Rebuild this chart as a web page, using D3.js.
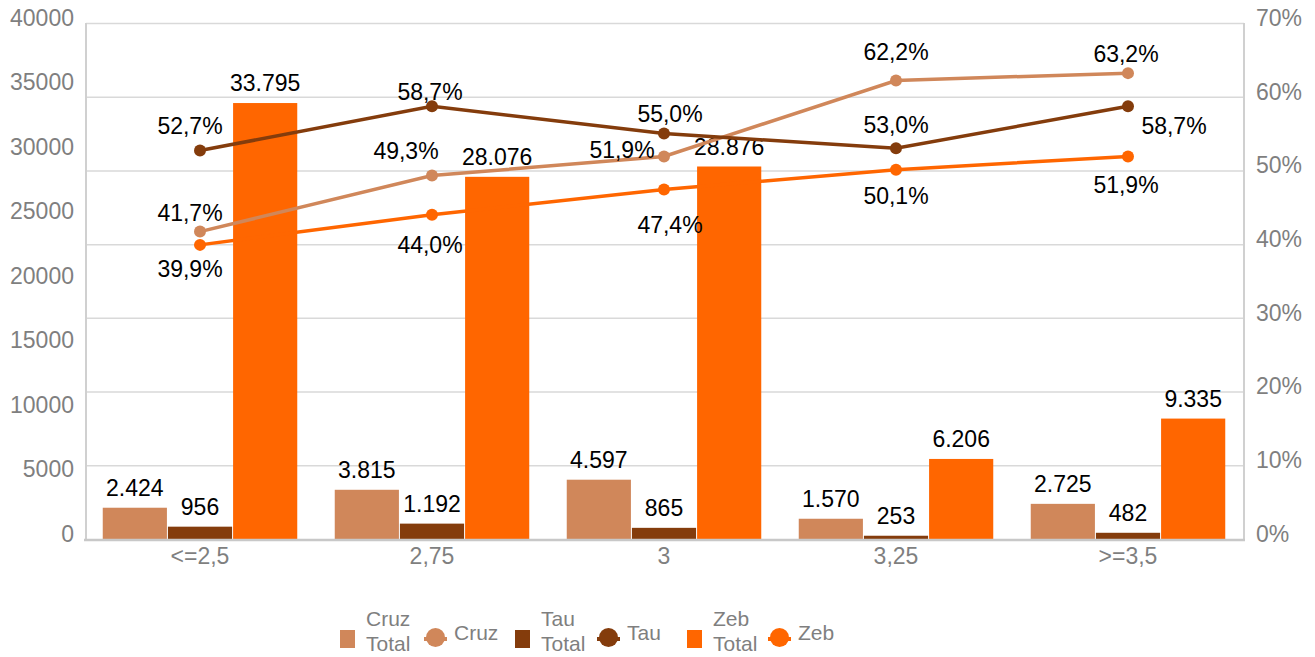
<!DOCTYPE html>
<html>
<head>
<meta charset="utf-8">
<script src="https://cdn.jsdelivr.net/npm/d3@7"></script>
<style>
body { margin: 0; background: #fff; }
text { font-family: "Liberation Sans", Arial, sans-serif; }
</style>
</head>
<body>
<script>
// Data
var categories = ["<=2,5", "2,75", "3", "3,25", ">=3,5"];
var cruzTotal = [2424, 3815, 4597, 1570, 2725];
var tauTotal = [956, 1192, 865, 253, 482];
var zebTotal = [33795, 28076, 28876, 6206, 9335];
var cruzPct = [0.417, 0.493, 0.519, 0.622, 0.632];
var tauPct = [0.527, 0.587, 0.550, 0.530, 0.587];
var zebPct = [0.399, 0.440, 0.474, 0.501, 0.519];
var leftTicks = [0, 5000, 10000, 15000, 20000, 25000, 30000, 35000, 40000];
var rightTicks = [0, 0.1, 0.2, 0.3, 0.4, 0.5, 0.6, 0.7];

var width = 1315,
    height = 657,
    plotLeft = 84, plotRight = 1244, //plot area edges
    plotTop = 23, plotBottom = 539;

var colors = {cruz: "#d0875a", tau: "#843c0c", zeb: "#ff6600"};

// label offsets of the line labels (dx, dy from the point)
var cruzOff = [[-10, -19], [-26, -25], [-42, -6], [0, -29], [-2, -19]],
    tauOff = [[-10, -25], [-2, -14], [6, -20], [0, -23], [46, 20]],
    zebOff = [[-10, 24], [-2, 30], [6, 35], [0, 26], [-2, 29]];

var loc = d3.formatLocale({decimal: ",", thousands: ".", grouping: [3], currency: ["", ""]});
var fmtNum = loc.format(",d"),
    fmtPct = loc.format(".1%");

var svg = d3.select("body").append("svg")
    .attr("width", width)
    .attr("height", height);

var x = d3.scaleBand().domain(categories).range([plotLeft, plotRight]);
var x1 = d3.scaleBand().domain(["cruz", "tau", "zeb"]).range([0, x.bandwidth()]).paddingOuter(0.28);
var y = d3.scaleLinear().domain([0, 40000]).range([plotBottom, plotTop]);
var yR = d3.scaleLinear().domain([0, 0.7]).range([plotBottom, plotTop]);

// gridlines follow the right axis
svg.append("g").selectAll("line")
    .data(rightTicks.slice(1))
    .enter().append("line")
    .attr("x1", plotLeft + 2).attr("x2", plotRight)
    .attr("y1", function (d) { return yR(d) + 0.5; })
    .attr("y2", function (d) { return yR(d) + 0.5; })
    .attr("stroke", "#d9d9d9")
    .attr("stroke-width", 1.5);

// axis lines
svg.append("line").attr("x1", plotLeft + 2).attr("x2", plotLeft + 2).attr("y1", plotTop).attr("y2", plotBottom)
    .attr("stroke", "#d0d0d0").attr("stroke-width", 2);
svg.append("line").attr("x1", plotRight).attr("x2", plotRight).attr("y1", plotTop).attr("y2", plotBottom)
    .attr("stroke", "#d0d0d0").attr("stroke-width", 2);

// left axis
var yAxis = d3.axisLeft(y).tickValues(leftTicks).tickSize(0).tickPadding(10).tickFormat(d3.format("d"));
var ga = svg.append("g").attr("transform", "translate(" + plotLeft + ",-5)").call(yAxis);
ga.select(".domain").remove();
ga.selectAll("text").attr("fill", "#7f7f7f").style("font-size", "23px").style("font-family", "Liberation Sans, Arial, sans-serif");

// right axis
var yAxisR = d3.axisRight(yR).tickValues(rightTicks).tickSize(0).tickPadding(12).tickFormat(d3.format(".0%"));
var gr = svg.append("g").attr("transform", "translate(" + plotRight + ",-5)").call(yAxisR);
gr.select(".domain").remove();
gr.selectAll("text").attr("fill", "#7f7f7f").style("font-size", "23px").style("font-family", "Liberation Sans, Arial, sans-serif");

// bars
var barSeries = [
    {key: "cruz", values: cruzTotal},
    {key: "tau", values: tauTotal},
    {key: "zeb", values: zebTotal}
];
barSeries.forEach(function (s) {
    var g = svg.append("g");
    g.selectAll("rect")
        .data(s.values)
        .enter().append("rect")
        .attr("x", function (d, i) { return x(categories[i]) + x1(s.key) + 0.5; })
        .attr("y", function (d) { return y(d); })
        .attr("width", x1.bandwidth() - 1)
        .attr("height", function (d) { return plotBottom - y(d); })
        .attr("fill", colors[s.key]);
    g.selectAll("text")
        .data(s.values)
        .enter().append("text")
        .attr("x", function (d, i) { return x(categories[i]) + x1(s.key) + x1.bandwidth() / 2; })
        .attr("y", function (d) { return y(d) - 20; })
        .attr("dy", "0.35em")
        .attr("text-anchor", "middle")
        .style("font-size", "23px")
        .attr("fill", "#000")
        .text(function (d) { return fmtNum(d); });
});

// bottom axis
svg.append("line").attr("x1", plotLeft).attr("x2", plotRight + 1).attr("y1", plotBottom + 1).attr("y2", plotBottom + 1)
    .attr("stroke", "#c8c8c8").attr("stroke-width", 2.5);
svg.append("g").selectAll("text")
    .data(categories)
    .enter().append("text")
    .attr("x", function (d) { return x(d) + x.bandwidth() / 2; })
    .attr("y", 556)
    .attr("dy", "0.35em")
    .attr("text-anchor", "middle")
    .attr("fill", "#7f7f7f")
    .style("font-size", "23px")
    .text(function (d) { return d; });

// lines
var lineSeries = [
    {key: "cruz", values: cruzPct, off: cruzOff},
    {key: "zeb", values: zebPct, off: zebOff},
    {key: "tau", values: tauPct, off: tauOff}
];
var line = d3.line()
    .x(function (d, i) { return x(categories[i]) + x.bandwidth() / 2; })
    .y(function (d) { return yR(d); });

lineSeries.forEach(function (s) {
    var g = svg.append("g");
    g.append("path")
        .datum(s.values)
        .attr("d", line)
        .attr("fill", "none")
        .attr("stroke", colors[s.key])
        .attr("stroke-width", 3.5);
    g.selectAll("circle")
        .data(s.values)
        .enter().append("circle")
        .attr("cx", function (d, i) { return x(categories[i]) + x.bandwidth() / 2; })
        .attr("cy", function (d) { return yR(d); })
        .attr("r", 6)
        .attr("fill", colors[s.key]);
});
// line labels on top
lineSeries.forEach(function (s) {
    svg.append("g").selectAll("text")
        .data(s.values)
        .enter().append("text")
        .attr("x", function (d, i) { return x(categories[i]) + x.bandwidth() / 2 + s.off[i][0]; })
        .attr("y", function (d, i) { return yR(d) + s.off[i][1]; })
        .attr("dy", "0.35em")
        .attr("text-anchor", "middle")
        .style("font-size", "23px")
        .attr("fill", "#000")
        .text(function (d) { return fmtPct(d); });
});

// legend
var legend = [
    {key: "cruz", type: "bar", label: ["Cruz", "Total"], x: 340},
    {key: "cruz", type: "line", label: ["Cruz"], x: 424},
    {key: "tau", type: "bar", label: ["Tau", "Total"], x: 515},
    {key: "tau", type: "line", label: ["Tau"], x: 597},
    {key: "zeb", type: "bar", label: ["Zeb", "Total"], x: 687},
    {key: "zeb", type: "line", label: ["Zeb"], x: 768}
];
var lg = svg.append("g").selectAll("g")
    .data(legend)
    .enter().append("g")
    .attr("transform", function (d) { return "translate(" + d.x + ",0)"; });

lg.each(function (d) {
    var g = d3.select(this);
    if (d.type === "bar") {
        g.append("rect").attr("x", 0).attr("y", 630).attr("width", 15).attr("height", 18).attr("fill", colors[d.key]);
        g.selectAll("text").data(d.label).enter().append("text")
            .attr("x", 26)
            .attr("y", function (t, i) { return 619 + i * 25; })
            .attr("dy", "0.35em")
            .attr("fill", "#7f7f7f")
            .style("font-size", "21px")
            .text(function (t) { return t; });
    } else {
        g.append("line").attr("x1", 0).attr("x2", 23).attr("y1", 639).attr("y2", 639)
            .attr("stroke", colors[d.key]).attr("stroke-width", 4);
        g.append("circle").attr("cx", 11.5).attr("cy", 637.5).attr("r", 9.5).attr("fill", colors[d.key]);
        g.append("text")
            .attr("x", 30)
            .attr("y", 633)
            .attr("dy", "0.35em")
            .attr("fill", "#7f7f7f")
            .style("font-size", "21px")
            .text(d.label[0]);
    }
});
</script>
</body>
</html>
